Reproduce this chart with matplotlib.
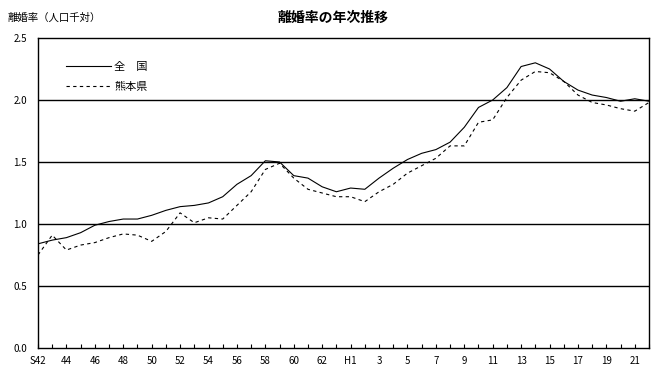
import numpy as np
import matplotlib.pyplot as plt

plt.rcParams['font.family'] = ['Noto Sans CJK JP', 'DejaVu Sans']

years = np.arange(1967, 2011)
national = [0.84, 0.87, 0.89, 0.93, 0.99, 1.02, 1.04, 1.04, 1.07, 1.11,
            1.14, 1.15, 1.17, 1.22, 1.32, 1.39, 1.51, 1.50, 1.39, 1.37,
            1.30, 1.26, 1.29, 1.28, 1.37, 1.45, 1.52, 1.57, 1.60, 1.66,
            1.78, 1.94, 2.00, 2.10, 2.27, 2.30, 2.25, 2.15, 2.08, 2.04,
            2.02, 1.99, 2.01, 1.99]
kumamoto = [0.75, 0.91, 0.79, 0.83, 0.85, 0.89, 0.92, 0.91, 0.86, 0.94,
            1.09, 1.01, 1.05, 1.04, 1.15, 1.26, 1.44, 1.49, 1.37, 1.28,
            1.25, 1.22, 1.22, 1.18, 1.26, 1.32, 1.41, 1.47, 1.53, 1.63,
            1.63, 1.82, 1.84, 2.02, 2.16, 2.23, 2.22, 2.15, 2.04, 1.98,
            1.96, 1.93, 1.91, 1.98]

def era_label(y):
    if y < 1989:
        s = str(y - 1925)
        return 'S' + s if y == 1967 else s
    s = str(y - 1988)
    return 'H' + s if y == 1989 else s

tick_labels = [era_label(y) if (y - 1967) % 2 == 0 else '' for y in years]

fig = plt.figure(figsize=(6.68, 3.80), dpi=100)
ax = fig.add_axes([38/668, 32/380, 611/668, 310/380])

for v in [0.5, 1.0, 1.5, 2.0]:
    ax.axhline(v, color='black', lw=1.0, zorder=1)

ax.plot(years, national, color='black', lw=0.8, label='全　国', zorder=3)
ax.plot(years, kumamoto, color='black', lw=0.8, ls=(0, (3, 3)), label='熊本県', zorder=3)

ax.set_xlim(1967, 2010)
ax.set_ylim(0, 2.5)
ax.set_yticks(np.arange(0, 2.51, 0.5))
ax.set_yticklabels(['%.1f' % v for v in np.arange(0, 2.51, 0.5)], fontsize=7)
ax.set_xticks(years)
ax.set_xticklabels(tick_labels, fontsize=7)
ax.tick_params(axis='x', direction='in', length=3, width=0.8, pad=6)
ax.tick_params(axis='y', length=0, pad=8)
for s in ax.spines.values():
    s.set_linewidth(1.0)

ax.legend(loc='upper left', bbox_to_anchor=(0.03, 0.955), frameon=False,
          fontsize=8, handlelength=4.0, handletextpad=0.3, labelspacing=0.9)

fig.text(333/668, 1 - 18/380, '離婚率の年次推移', ha='center', va='center',
         fontsize=10, fontweight='bold')
fig.text(8/668, 1 - 18/380, '離婚率（人口千対）', ha='left', va='center', fontsize=7.5)

fig.savefig('out.png', dpi=100)
